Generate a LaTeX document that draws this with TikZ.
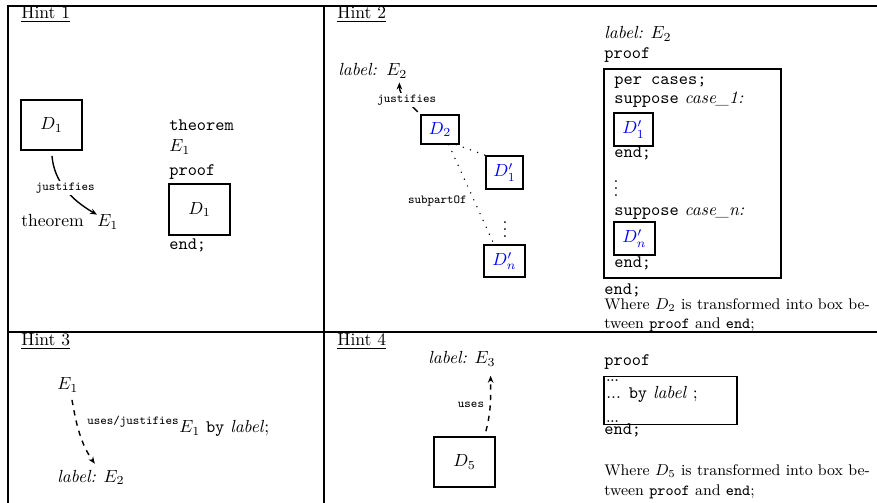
\documentclass[tikz,border=0pt]{standalone}
\usetikzlibrary{arrows.meta}
\begin{document}
\begin{tikzpicture}[x=0.57pt,y=0.57pt,
  frame/.style={line width=1.2pt},
  bx/.style={draw, line width=0.8pt, inner sep=0pt},
  txt/.style={anchor=base west, inner sep=0pt},
  lbl/.style={font=\scriptsize\ttfamily, inner sep=1pt},
  tip/.style={-{Stealth[length=4pt,width=3.2pt]}, line width=0.8pt},
  dotline/.style={line width=0.9pt, dash pattern=on 0.01pt off 4.3pt, line cap=round},
  small/.style={font=\fontsize{8.8}{10}\selectfont}
]
\useasboundingbox (0,0) rectangle (877,-503);
% frame
\draw[frame] (8,-503) -- (8,-6) -- (877,-6);
\draw[frame] (324,-6) -- (324,-503);
\draw[frame] (8,-332) -- (877,-332);
% titles
\node[txt] (h1) at (21,-19) {\underline{Hint 1}};
\node[txt] (h2) at (337,-19) {\underline{Hint 2}};
\node[txt] (h3) at (21,-346) {\underline{Hint 3}};
\node[txt] (h4) at (337,-346) {\underline{Hint 4}};
% ---------- Hint 1
\node[bx, minimum width=34.8pt, minimum height=28.5pt] (d1a) at (51.5,-125) {$D_1$};
\node[txt] (thm) at (21,-227) {theorem};
\node[txt] (e1a) at (97,-227) {$E_1$};
\draw[tip, shorten <=3pt] (d1a.south) to[out=-85,in=150]
  node[lbl, fill=white, pos=0.5] {justifies} (e1a.north west);
\node[txt] (thm2) at (169,-131) {\texttt{theorem}};
\node[txt] (e1b) at (169,-152) {$E_1$};
\node[txt] (pf1) at (169,-176) {\texttt{proof}};
\node[bx, minimum width=34.8pt, minimum height=29pt] (d1b) at (199.5,-209.5) {$D_1$};
\node[txt] (end1) at (169,-250) {\texttt{end;}};
% ---------- Hint 2 left
\node[txt] (lab2) at (338,-76) {\textit{label:}};
\node[txt] (e2a) at (386,-76) {$E_2$};
\node[bx, minimum width=21.7pt, minimum height=16.5pt, text=blue] (d2) at (440,-129.5) {$D_2$};
\node[bx, minimum width=21pt, minimum height=18.8pt, text=blue] (dp1) at (504.5,-172.5) {$D'_1$};
\node[bx, minimum width=23.4pt, minimum height=18.2pt, text=blue] (dpn) at (504.5,-261) {$D'_n$};
\node[inner sep=0pt] (vd2) at (505,-224) {$\vdots$};
\draw[tip, shorten <=2pt, shorten >=2pt] (d2.north west) to[out=135,in=-90]
  node[lbl, fill=white, pos=0.45] {justifies} ([xshift=1.5pt]e2a.south);
\draw[dotline] ([xshift=-2pt]d2.south east) -- (dp1.north west);
\draw[dotline] ([xshift=5pt]d2.south) --
  node[lbl, pos=0.57, left=3pt] {subpartOf} ([xshift=-6pt]dpn.north);
% ---------- Hint 2 right
\node[txt] (lab2b) at (604,-39) {\textit{label:} $E_2$};
\node[txt] (pf2) at (604,-59) {\texttt{proof}};
\node[bx, minimum width=100.9pt, minimum height=119.1pt] (big) at (692.5,-173.5) {};
\node[txt] (pc) at (614,-85) {\texttt{per cases;}};
\node[txt] (s1) at (614,-104) {\texttt{suppose} \textit{case\_1:}};
\node[bx, minimum width=22.2pt, minimum height=18.8pt, text=blue] (c1) at (633.5,-129.5) {$D'_1$};
\node[txt] (en1) at (614,-158) {\texttt{end;}};
\node[inner sep=0pt] (vd3) at (616,-183) {$\vdots$};
\node[txt] (sn) at (614,-216) {\texttt{suppose} \textit{case\_n:}};
\node[bx, minimum width=23.4pt, minimum height=18.8pt, text=blue] (cn) at (634.5,-238.5) {$D'_n$};
\node[txt] (enn) at (614,-268) {\texttt{end;}};
\node[txt] (end2) at (604,-295) {\texttt{end;}};
\node[txt, small] (w2a) at (604,-310) {Where $D_2$ is transformed into box be-};
\node[txt, small] (w2b) at (604,-329) {tween \texttt{proof} and \texttt{end};};
% ---------- Hint 3
\node[txt] (e1c) at (57,-390) {$E_1$};
\node[txt] (l3) at (57,-482) {\textit{label:} $E_2$};
\draw[tip, dashed, shorten <=4pt, shorten >=4pt] ([xshift=1.7pt]e1c.south) to[out=-80,in=125] ([xshift=4.5pt]l3.north);
\node[txt, font=\scriptsize\ttfamily] (uj) at (87,-425) {uses/justifies};
\node[txt] (by3) at (179,-433) {$E_1$ \texttt{by} \textit{label};};
% ---------- Hint 4
\node[txt] (l4) at (428,-364) {\textit{label:} $E_3$};
\node[bx, minimum width=34.8pt, minimum height=28.5pt] (d5) at (464.5,-462) {$D_5$};
\draw[tip, dashed, shorten <=3pt, shorten >=5pt] ([xshift=11.4pt]d5.north) to[out=75,in=-90]
  node[lbl, left=2pt, pos=0.45] {uses} ([xshift=-3pt]l4.south east);
\node[txt] (pf4) at (604,-366) {\texttt{proof}};
\node[bx, minimum width=75.8pt, minimum height=27.4pt] (box4) at (670.5,-400.5) {};
\node[txt, font=\fontsize{6.5}{7}\selectfont\bfseries] (dt1) at (606,-382) {...};
\node[txt] (mid4) at (606,-399) {... \texttt{by} \textit{label} ;};
\node[txt, font=\fontsize{6.5}{7}\selectfont\bfseries] (dt2) at (606,-422) {...};
\node[txt] (end4) at (604,-435) {\texttt{end;}};
\node[txt, small] (w4a) at (604,-476) {Where $D_5$ is transformed into box be-};
\node[txt, small] (w4b) at (604,-496) {tween \texttt{proof} and \texttt{end};};
\end{tikzpicture}
\end{document}
